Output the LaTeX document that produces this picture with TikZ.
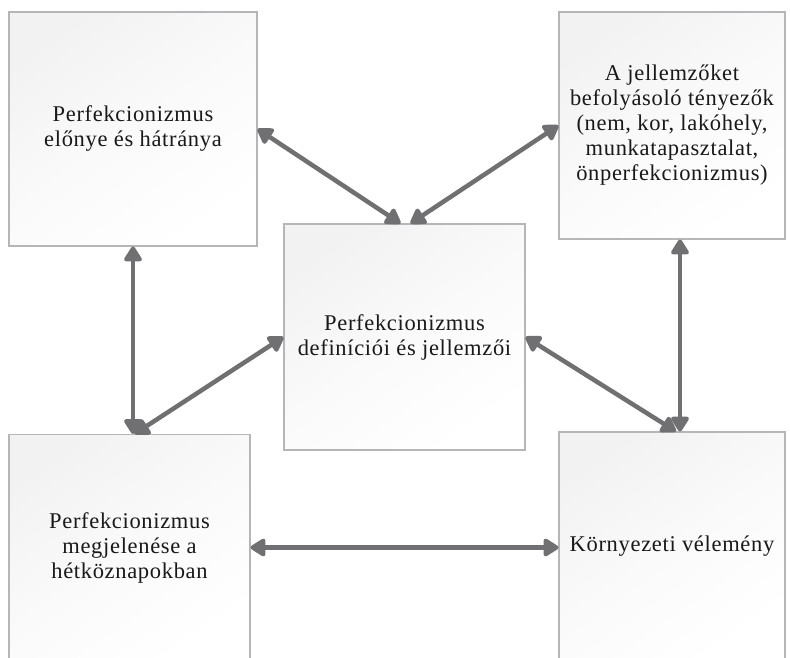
\documentclass[tikz,border=0pt]{standalone}
\usepackage{fontspec}
\usepackage{tikz}
\newfontfamily\boxfont{Liberation Serif}[LetterSpace=3]
\usetikzlibrary{arrows.meta, positioning}
\definecolor{arrowgray}{RGB}{112,112,114}
\definecolor{boxline}{RGB}{182,182,186}

\begin{document}
\begin{tikzpicture}[
        x=1pt, y=1pt,
        every node/.style={font=\boxfont\fontsize{22.5}{25}\selectfont, text=black!90, align=center},
        topicbox/.style={draw=boxline, line width=1.1pt, top color=black!5, bottom color=white, middle color=black!2, shading angle=35, inner sep=0pt},
        linkarrow/.style={draw=arrowgray, line width=4.5pt, {Triangle[length=17pt,width=20pt,round]}-{Triangle[length=17pt,width=20pt,round]}}
    ]
        \useasboundingbox (0,0) rectangle (790,657);
        \clip (0,0) rectangle (790,657);

        % --- Boxes ---
        \node[topicbox, minimum width=248, minimum height=234] (elony) at (133,528) {Perfekcionizmus\\előnye és hátránya};
        \node[topicbox, minimum width=226, minimum height=227] (tenyezo) at (672,531.5) {A jellemzőket\\befolyásoló tényezők\\(nem, kor, lakóhely,\\munkatapasztalat,\\önperfekcionizmus)};
        \node[topicbox, minimum width=241, minimum height=226] (defin) at (404.5,320) {Perfekcionizmus\\definíciói és jellemzői};
        \node[topicbox, minimum width=241, minimum height=226] (hetkoz) at (129.5,109.5) {Perfekcionizmus\\megjelenése a\\hétköznapokban};
        \node[topicbox, minimum width=226, minimum height=228] (kornyezet) at (672,111) {Környezeti vélemény};

        % --- Arrows ---
        \draw[linkarrow] (elony.east) -- ([xshift=-4]defin.north);
        \draw[linkarrow] (tenyezo.west) -- ([xshift=6]defin.north);
        \draw[linkarrow] (elony.south) -- (elony.south |- hetkoz.north);
        \draw[linkarrow] ([xshift=5]hetkoz.north) -- (defin.west);
        \draw[linkarrow] ([xshift=8]tenyezo.south) -- ([xshift=8]tenyezo.south |- kornyezet.north);
        \draw[linkarrow] (defin.east) -- ([xshift=4]kornyezet.north);
        \draw[linkarrow] (hetkoz.east) -- (hetkoz.east -| kornyezet.west);

    \end{tikzpicture}
\end{document}
